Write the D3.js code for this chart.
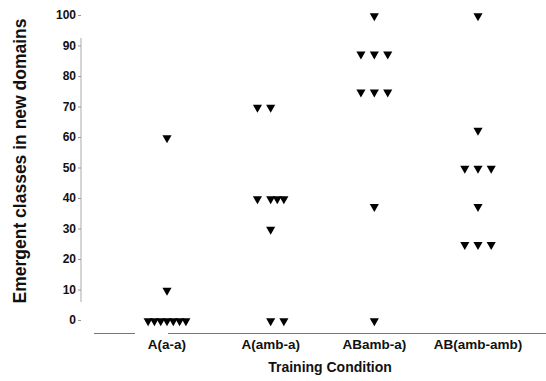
<!DOCTYPE html>
<html>
<head>
<meta charset="utf-8">
<script src="https://cdn.jsdelivr.net/npm/d3@7"></script>
<style>
  html, body { margin: 0; padding: 0; background: #fff; }
  svg { display: block; font-family: "Liberation Sans", Arial, sans-serif; }
</style>
</head>
<body>
<svg id="chart" width="546" height="381"></svg>
<script>
// Training conditions along the x axis
const categories = ["A(a-a)", "A(amb-a)", "ABamb-a)", "AB(amb-amb)"];

// Emergent classes per subject (percent), one array per condition
const valuesAaa = [60, 10, 0, 0, 0, 0, 0, 0, 0];
const valuesAamba = [70, 70, 40, 40, 40, 40, 30, 0, 0];
const valuesABamba = [100, 87.5, 87.5, 87.5, 75, 75, 75, 37.5, 0];
const valuesABambamb = [100, 62.5, 50, 50, 50, 37.5, 25, 25, 25];
const seriesValues = [valuesAaa, valuesAamba, valuesABamba, valuesABambamb];

// Y axis ticks
const yTicks = [0, 10, 20, 30, 40, 50, 60, 70, 80, 90, 100];

// Horizontal slot (in marker steps) for tied points, per condition, per point
const slots = [
  [0, 0, -3, -2, -1, 0, 1, 2, 3],
  [-2, 0, -2, 0, 1, 2, 0, 0, 2],
  [0, -2, 0, 2, -2, 0, 2, 0, 0],
  [0, 0, -2, 0, 2, 0, -2, 0, 2]
];
const slotStep = [6.3, 6.6, 6.7, 6.6];

const svg = d3.select("#chart");

const x = d3.scalePoint().domain(categories).range([167, 478]);
const y = d3.scaleLinear().domain([0, 100]).range([320, 15]);

// Y axis: faint vertical rule, small ticks, bold labels
const yAxis = svg.append("g");
yAxis.append("line")
  .attr("x1", 81).attr("x2", 81)
  .attr("y1", 38).attr("y2", 302)
  .attr("stroke", "#aaa").attr("stroke-width", 1);
yAxis.selectAll("line.tick").data(yTicks).enter().append("line")
  .attr("class", "tick")
  .attr("x1", 78).attr("x2", 81)
  .attr("y1", d => y(d) + 0.5).attr("y2", d => y(d) + 0.5)
  .attr("stroke", "#999").attr("stroke-width", 1);
yAxis.selectAll("text").data(yTicks).enter().append("text")
  .attr("x", 76)
  .attr("y", d => y(d))
  .attr("dy", "0.35em")
  .attr("text-anchor", "end")
  .attr("font-size", "12px")
  .attr("font-weight", "bold")
  .attr("fill", "#111")
  .text(d => d);

// X axis baseline (drawn in two pieces)
const xAxis = svg.append("g");
[[94, 135], [168, 546]].forEach(([a, b]) => {
  xAxis.append("line")
    .attr("x1", a).attr("x2", b)
    .attr("y1", 333.5).attr("y2", 333.5)
    .attr("stroke", "#777").attr("stroke-width", 1.2);
});
xAxis.selectAll("text").data(categories).enter().append("text")
  .attr("x", d => x(d))
  .attr("y", 349)
  .attr("text-anchor", "middle")
  .attr("font-size", "13.5px")
  .attr("font-weight", "bold")
  .attr("fill", "#111")
  .text(d => d);

// Axis titles
svg.append("text")
  .attr("x", 330).attr("y", 372)
  .attr("text-anchor", "middle")
  .attr("font-size", "14px")
  .attr("font-weight", "bold")
  .attr("fill", "#111")
  .text("Training Condition");

svg.append("text")
  .attr("transform", "translate(26,161) rotate(-90)")
  .attr("text-anchor", "middle")
  .attr("font-size", "17.5px")
  .attr("font-weight", "bold")
  .attr("fill", "#111")
  .text("Emergent classes in new domains");

// Downward triangle markers
const tri = d3.symbol().type(d3.symbolTriangle).size(36);
const points = [];
seriesValues.forEach((vals, ci) => {
  vals.forEach((v, i) => {
    points.push({ cat: categories[ci], value: v, dx: slots[ci][i] * slotStep[ci] });
  });
});
svg.append("g").selectAll("path").data(points).enter().append("path")
  .attr("d", tri)
  .attr("transform", d => `translate(${x(d.cat) + d.dx},${y(d.value) + 1}) rotate(180)`)
  .attr("fill", "#000");
</script>
</body>
</html>
